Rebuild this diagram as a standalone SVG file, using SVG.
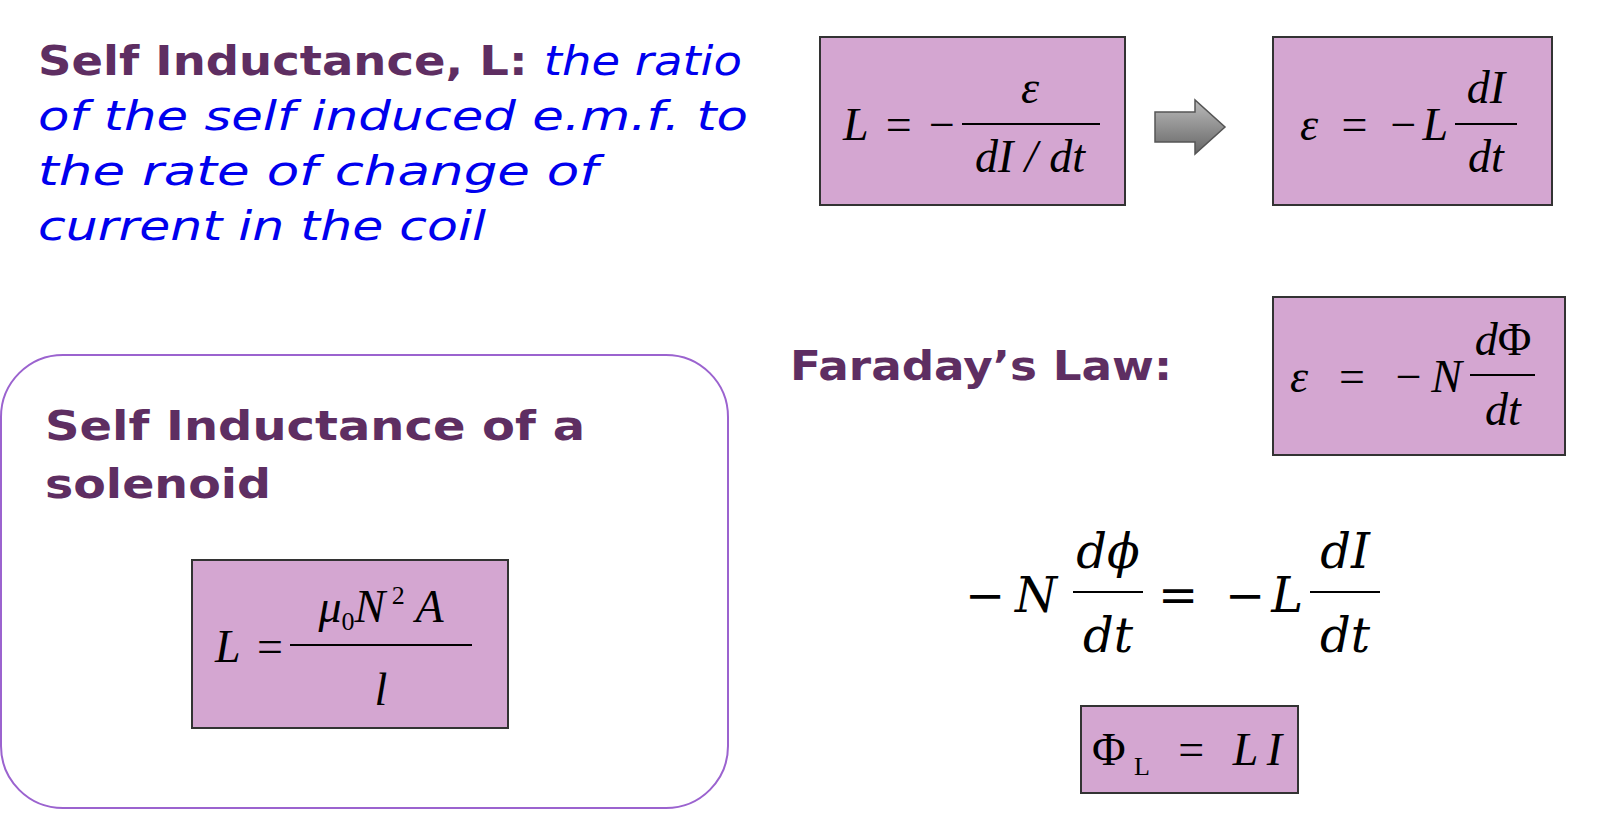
<svg xmlns="http://www.w3.org/2000/svg" width="1600" height="826" viewBox="0 0 1600 826">
<defs>
<style>
.h{font-family:"DejaVu Sans","Liberation Sans",sans-serif;font-weight:bold;fill:#5E2E62;font-size:40px}
.b{font-family:"DejaVu Sans","Liberation Sans",sans-serif;font-style:italic;fill:#0000EE;font-size:40px}
.box{fill:#D4A6D1;stroke:#333;stroke-width:2}
.m{font-family:"Liberation Serif","Times New Roman",serif;font-size:46px;fill:#000}
.i{font-style:italic}
.c{font-family:"DejaVu Serif",serif;font-size:48px;fill:#000}
.ln{stroke:#000;stroke-width:2}
</style>
<linearGradient id="g" x1="0" y1="0" x2="0" y2="1"><stop offset="0" stop-color="#bbb"/><stop offset="1" stop-color="#666"/></linearGradient>
</defs>
<g id="definition">
<text x="38" y="75" textLength="704" lengthAdjust="spacingAndGlyphs"><tspan class="h">Self Inductance, L: </tspan><tspan class="b">the ratio</tspan></text>
<text class="b" x="38" y="130" textLength="710" lengthAdjust="spacingAndGlyphs">of the self induced e.m.f. to</text>
<text class="b" x="38" y="185" textLength="560" lengthAdjust="spacingAndGlyphs">the rate of change of</text>
<text class="b" x="38" y="240" textLength="448" lengthAdjust="spacingAndGlyphs">current in the coil</text>
</g>
<g id="eq1">
<rect class="box" x="820" y="37" width="305" height="168"/>
<text class="m" x="843" y="140" textLength="112" lengthAdjust="spacing"><tspan class="i">L</tspan> = −</text>
<line class="ln" x1="962" y1="124" x2="1100" y2="124"/>
<text class="m i" x="1030" y="103" text-anchor="middle">ε</text>
<text class="m i" x="1030" y="172" text-anchor="middle">dI / dt</text>
</g>
<g id="connectors">
<polygon points="1155,112 1195,112 1195,100 1225,127 1195,154 1195,142 1155,142" fill="url(#g)" stroke="#555" stroke-width="1.5"/>
</g>
<g id="eq2">
<rect class="box" x="1273" y="37" width="279" height="168"/>
<text class="m" x="1300" y="140" textLength="148" lengthAdjust="spacing"><tspan class="i">ε</tspan> = −<tspan class="i">L</tspan></text>
<line class="ln" x1="1455" y1="124" x2="1517" y2="124"/>
<text class="m i" x="1486" y="103" text-anchor="middle">dI</text>
<text class="m i" x="1486" y="172" text-anchor="middle">dt</text>
</g>
<g id="faraday">
<text class="h" x="790" y="380" textLength="382" lengthAdjust="spacingAndGlyphs">Faraday’s Law:</text>
<rect class="box" x="1273" y="297" width="292" height="158"/>
<text class="m" x="1290" y="392" textLength="172" lengthAdjust="spacing"><tspan class="i">ε</tspan> = −<tspan class="i">N</tspan></text>
<line class="ln" x1="1470" y1="375" x2="1535" y2="375"/>
<text class="m i" x="1503" y="355" text-anchor="middle">d<tspan font-style="normal">Φ</tspan></text>
<text class="m i" x="1503" y="425" text-anchor="middle">dt</text>
</g>
<g id="solenoid">
<rect x="1" y="355" width="727" height="453" rx="62" fill="#fff" stroke="#9B63CF" stroke-width="2"/>
<text class="h" x="45" y="440" textLength="540" lengthAdjust="spacingAndGlyphs">Self Inductance of a</text>
<text class="h" x="45" y="498" textLength="226" lengthAdjust="spacingAndGlyphs">solenoid</text>
<rect class="box" x="192" y="560" width="316" height="168"/>
<text class="m" x="215" y="662" textLength="68" lengthAdjust="spacing"><tspan class="i">L</tspan> =</text>
<line class="ln" x1="290" y1="645" x2="472" y2="645"/>
<text class="m i" x="381" y="622" text-anchor="middle">μ<tspan font-size="26" dy="8" font-style="normal">0</tspan><tspan dy="-8">N</tspan><tspan font-size="26" dy="-18" font-style="normal"> 2</tspan><tspan dy="18"> A</tspan></text>
<text class="m i" x="381" y="705" text-anchor="middle">l</text>
</g>
<g id="equality">
<text class="c" x="965" y="612" textLength="92" lengthAdjust="spacing">−<tspan font-style="italic">N</tspan></text>
<line class="ln" x1="1073" y1="592" x2="1143" y2="592"/>
<text class="c" x="1108" y="568" text-anchor="middle" font-style="italic">dϕ</text>
<text class="c" x="1108" y="652" text-anchor="middle" font-style="italic">dt</text>
<text class="c" x="1158" y="612" textLength="145" lengthAdjust="spacing">= −<tspan font-style="italic">L</tspan></text>
<line class="ln" x1="1310" y1="592" x2="1380" y2="592"/>
<text class="c" x="1345" y="568" text-anchor="middle" font-style="italic">dI</text>
<text class="c" x="1345" y="652" text-anchor="middle" font-style="italic">dt</text>
</g>
<g id="flux">
<rect class="box" x="1081" y="706" width="217" height="87"/>
<text class="m" x="1092" y="765" textLength="190" lengthAdjust="spacing">Φ<tspan font-size="26" dy="10">L</tspan><tspan dy="-10"> = </tspan><tspan class="i">LI</tspan></text>
</g>
</svg>
